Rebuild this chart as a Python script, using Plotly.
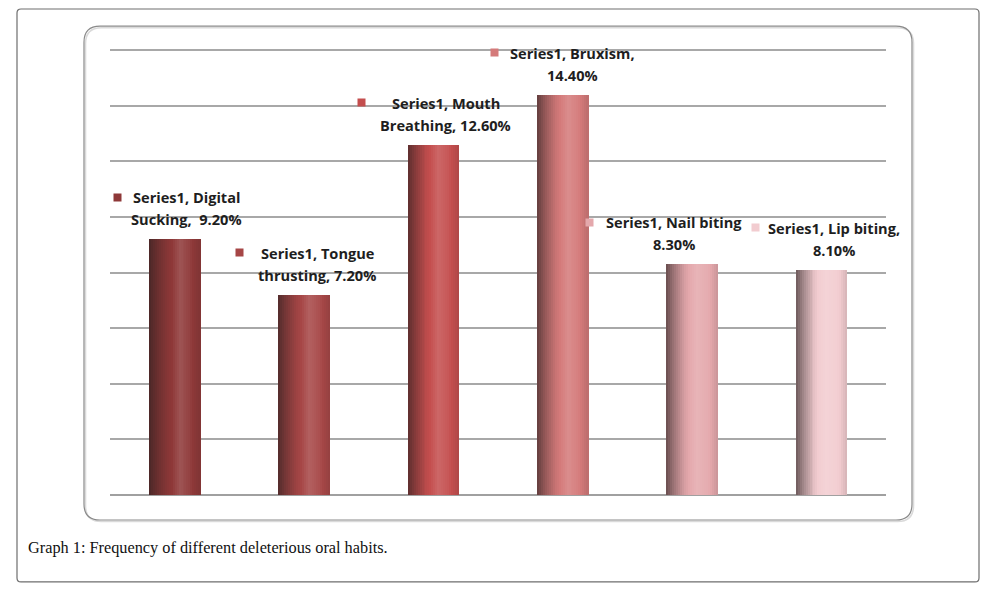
import plotly.graph_objects as go

# ---------------- data ----------------
categories = ["Digital Sucking", "Tongue thrusting", "Mouth Breathing",
              "Bruxism", "Nail biting", "Lip biting"]
values = [9.2, 7.2, 12.6, 14.4, 8.3, 8.1]
series_name = "Series1"
label_line1 = ["Series1, Digital", "Series1, Tongue", "Series1, Mouth",
               "Series1, Bruxism,", "Series1, Nail biting", "Series1, Lip biting,"]
label_line2 = ["Sucking,\u00a0 9.20%", "thrusting, 7.20%", "Breathing, 12.60%",
               "14.40%", "8.30%", "8.10%"]
caption = "Graph 1: Frequency of different deleterious oral habits."
y_ticks = [0, 2, 4, 6, 8, 10, 12, 14, 16]

# ---------------- style ----------------
OFF = 8                      # page body margin of the html page
W, H = 994 - OFF, 591 - OFF
PT, PB, PL, PR = 50, 495, 110, 886   # plot area in reference pixels
YMAX = 16.15
ppu = (PB - PT) / 16.0
top_px = PB - YMAX * ppu
L = PL - OFF
R = W - (PR - OFF)
T = top_px - OFF
B = H - (PB - OFF)

base_colors = ["#8E3838", "#A64646", "#C44E4E", "#D47A7A", "#E4A8AC", "#F2CCD0"]
label_dx = [12, 13, 12.5, 10, -18, 12.5]               # px, text block centre vs bar centre
marker_dx = [-57, -64.5, -71.5, -68.5, -102.5, -65.5]  # px, legend key vs bar centre
bar_width = 0.395
N = 26

def hex2rgb(h):
    h = h.lstrip("#")
    return tuple(int(h[i:i + 2], 16) for i in (0, 2, 4))

def mix(c, d, k):
    return tuple(c[i] + (d[i] - c[i]) * k for i in range(3))

def shade(hexc, t):
    pts = [(0, -0.66), (0.15, -0.38), (0.35, -0.08), (0.6, 0.14), (0.8, 0.05), (1.0, -0.14)]
    f = 0
    for (t0, v0), (t1, v1) in zip(pts[:-1], pts[1:]):
        if t0 <= t <= t1:
            f = v0 + (v1 - v0) * (t - t0) / (t1 - t0)
            break
    c = hex2rgb(hexc)
    c = mix(c, (40, 30, 30), -f) if f < 0 else mix(c, (255, 255, 255), f)
    return "rgb(%d,%d,%d)" % tuple(round(v) for v in c)

xpos = list(range(len(categories)))

fig = go.Figure()
sw = bar_width / N
for i in range(N):
    t = (i + 0.5) / N
    fig.add_trace(go.Bar(
        x=xpos, y=values, width=sw * 1.15, offset=-bar_width / 2 + i * sw,
        marker=dict(color=[shade(c, t) for c in base_colors], line=dict(width=0)),
        name=series_name, showlegend=False, hoverinfo="skip",
    ))

def px2paper(px, py):
    # reference pixel -> paper coords of this figure
    pw, ph = W - L - R, H - T - B
    return (px - OFF - L) / pw, (H - B - (py - OFF)) / ph

def rounded_path(x0, y0, x1, y1, r):
    pw, ph = W - L - R, H - T - B
    rx, ry = r / pw, r / ph
    a0, b0 = px2paper(x0, y1)  # bottom-left
    a1, b1 = px2paper(x1, y0)  # top-right
    return (f"M {a0+rx},{b1} L {a1-rx},{b1} Q {a1},{b1} {a1},{b1-ry} "
            f"L {a1},{b0+ry} Q {a1},{b0} {a1-rx},{b0} L {a0+rx},{b0} "
            f"Q {a0},{b0} {a0},{b0+ry} L {a0},{b1-ry} Q {a0},{b1} {a0+rx},{b1} Z")

shapes = [
    dict(type="path", xref="paper", yref="paper", path=rounded_path(17, 8.8, 979, 582, 4),
         line=dict(color="#6e6e6e", width=1.2), layer="below"),
    dict(type="path", xref="paper", yref="paper", path=rounded_path(85.5, 27.5, 913.5, 521.5, 16),
         line=dict(color="#dadada", width=1.6), layer="below"),
    dict(type="path", xref="paper", yref="paper", path=rounded_path(84, 26, 912, 520, 16),
         line=dict(color="#8a8a8a", width=1.2), layer="below"),
]

annotations = []
lab_font = dict(family="Open Sans", size=14.6, color="#1e1e1e")
for i, v in enumerate(values):
    annotations.append(dict(x=xpos[i], y=v, xref="x", yref="y", text="<b>%s</b>" % label_line1[i],
                            showarrow=False, xanchor="center", yanchor="middle",
                            xshift=label_dx[i], yshift=42, font=lab_font))
    annotations.append(dict(x=xpos[i], y=v, xref="x", yref="y", text="<b>%s</b>" % label_line2[i],
                            showarrow=False, xanchor="center", yanchor="middle",
                            xshift=label_dx[i], yshift=20, font=lab_font))
    annotations.append(dict(x=xpos[i], y=v, xref="x", yref="y", text=" ",
                            showarrow=False, xanchor="center", yanchor="middle",
                            width=7, height=7, borderpad=0, bgcolor=base_colors[i],
                            xshift=marker_dx[i], yshift=42, font=dict(size=4)))

cx, cy = px2paper(26, 548)
annotations.append(dict(x=cx, y=cy, xref="paper", yref="paper", text=caption,
                        showarrow=False, xanchor="left", yanchor="middle",
                        font=dict(family="Liberation Serif", size=16.3, color="#111111")))

fig.update_layout(
    width=W, height=H, margin=dict(l=L, r=R, t=T, b=B, pad=0),
    paper_bgcolor="white", plot_bgcolor="white",
    barmode="overlay", bargap=0, showlegend=False,
    shapes=shapes, annotations=annotations,
    xaxis=dict(range=[-0.5, len(categories) - 0.5], showticklabels=False, showgrid=False,
               zeroline=False, showline=False, ticks=""),
    yaxis=dict(range=[0, YMAX], tickvals=y_ticks, showticklabels=False, showgrid=True,
               gridcolor="#a8a8a8", gridwidth=1.6, zeroline=True, zerolinecolor="#a0a0a0",
               zerolinewidth=2.2, showline=False, ticks=""),
)

fig.write_html("out.html")
